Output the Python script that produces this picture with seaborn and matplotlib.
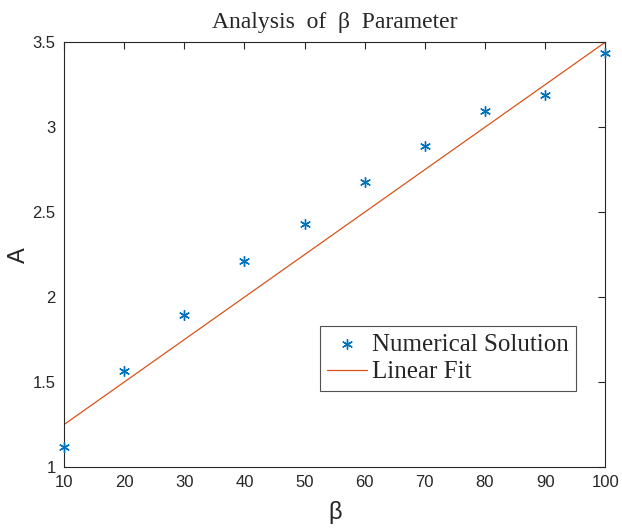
import numpy as np
import matplotlib
matplotlib.use("Agg")
import matplotlib.pyplot as plt
import seaborn as sns

# values
beta = [10, 20, 30, 40, 50, 60, 70, 80, 90, 100]
a_numerical = [1.12, 1.565, 1.895, 2.215, 2.43, 2.68, 2.89, 3.095, 3.19, 3.435]
fit_slope = 0.025
fit_intercept = 1.0
a_fit = [fit_slope * b + fit_intercept for b in beta]

sns.set_theme(style="white")
plt.rcParams['font.family'] = ['Liberation Sans', 'DejaVu Sans']

fig = plt.figure(figsize=(6.22, 5.28), dpi=100)
ax = fig.add_axes([0.103, 0.1155, 0.870, 0.8045])

sns.scatterplot(x=beta, y=a_numerical, ax=ax, marker=(6, 2, 0), s=50,
                color='#0072BD', linewidth=1.0, label='Numerical Solution',
                clip_on=False, zorder=3)
sns.lineplot(x=beta, y=a_fit, ax=ax, color='#D95319', linewidth=0.9,
             label='Linear Fit')

ax.set_xlim(10, 100)
ax.set_ylim(1, 3.5)
ax.set_xticks(np.arange(10, 101, 10))
ax.set_yticks([1, 1.5, 2, 2.5, 3, 3.5])
ax.set_yticklabels(['1', '1.5', '2', '2.5', '3', '3.5'])
ax.tick_params(direction='in', length=5, width=0.8, top=True, right=True,
               labelsize=12, colors='#262626', pad=6)
for s in ax.spines.values():
    s.set_color('#262626')
    s.set_linewidth(0.8)

ax.set_xlabel('β', fontsize=17, color='#262626', labelpad=8)
ax.set_ylabel('A', fontsize=17, color='#262626', labelpad=2)
ax.set_title('Analysis  of  β  Parameter', fontsize=17, family='Liberation Serif', pad=10)

leg = ax.legend(loc='lower right', bbox_to_anchor=(0.97, 0.15),
                prop={'family': 'Liberation Serif', 'size': 18},
                fancybox=False, frameon=True, handlelength=1.6,
                borderpad=0.3, labelspacing=0.2, handletextpad=0.2)
leg.get_frame().set_edgecolor('#262626')
leg.get_frame().set_linewidth(0.8)

fig.savefig('out.png', dpi=100)
